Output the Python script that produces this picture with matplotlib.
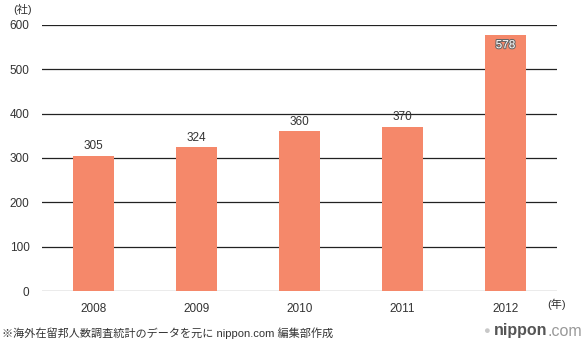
import matplotlib.pyplot as plt
import matplotlib.patheffects as pe

plt.rcParams['font.family'] = ['Liberation Sans', 'Noto Sans CJK JP']

years = ['2008', '2009', '2010', '2011', '2012']
counts = [305, 324, 360, 370, 578]
yticks = [0, 100, 200, 300, 400, 500, 600]

fig = plt.figure(figsize=(5.84, 3.44), dpi=100)
ax = fig.add_axes([42 / 584, 1 - 291 / 344, 515 / 584, 266 / 344])

x = [i + 0.5 for i in range(len(years))]
ax.bar(x, counts, width=0.4, color='#F5886A', zorder=2)
ax.set_xlim(0, 5)
ax.set_ylim(0, 600)

for v in yticks:
    ax.axhline(v, color='#222222' if v else '#666666', lw=0.9, zorder=1)

for xi, v in zip(x, counts):
    if v > 550:
        t = ax.text(xi, v - 10, str(v), ha='center', va='top', fontsize=8.5, color='white', zorder=3)
        t.set_path_effects([pe.withStroke(linewidth=1.5, foreground='#666666')])
    else:
        ax.text(xi, v + 8, str(v), ha='center', va='bottom', fontsize=8.5, color='#333333', zorder=3)

ax.set_xticks(x)
ax.set_xticklabels(years)
ax.set_yticks(yticks)
ax.tick_params(length=0, labelsize=8.5, colors='#333333')
ax.tick_params(axis='y', pad=9)
ax.tick_params(axis='x', pad=9)
for s in ax.spines.values():
    s.set_visible(False)

fig.text(13 / 584, 1 - 9 / 344, '(社)', fontsize=8, color='#333333', va='center')
fig.text(547 / 584, 1 - 304 / 344, '(年)', fontsize=8, color='#333333', va='center')
fig.text(2 / 584, 1 - 333 / 344, '※海外在留邦人数調査統計のデータを元に nippon.com 編集部作成',
         fontsize=8, color='#333333', va='center')
com = fig.text(582 / 584, 1 - 331 / 344, '.com', fontsize=11.5, color='#999999', va='center', ha='right')
logo = ax.annotate('nippon', xy=(0, 0.5), xycoords=com, fontsize=11.5, fontweight='bold',
                   color='#555555', va='center', ha='right')
ax.annotate('●', xy=(0, 0.5), xycoords=logo, xytext=(-3, 0), textcoords='offset points',
            fontsize=8, color='#c8c8c8', va='center', ha='right')

fig.savefig('out.png', dpi=100)
